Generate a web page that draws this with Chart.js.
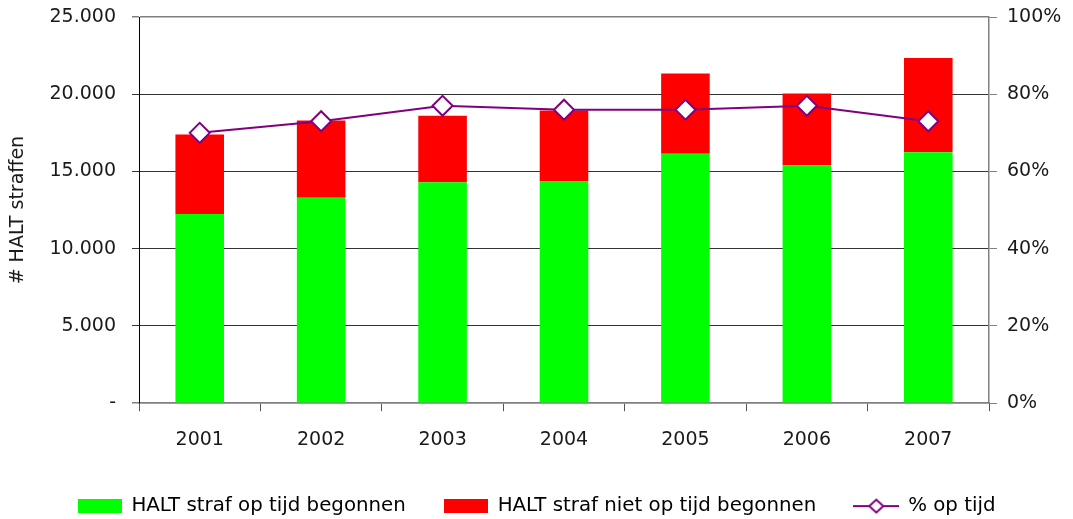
<!DOCTYPE html>
<html>
<head>
<meta charset="utf-8">
<script src="https://cdn.jsdelivr.net/npm/chart.js@4/dist/chart.umd.min.js"></script>
<style>
  html, body { margin: 0; padding: 0; background: #fff; }
  #chartContainer { width: 1073px; height: 519px; }
</style>
</head>
<body>
<div id="chartContainer"><canvas id="haltChart"></canvas></div>
<script>
var years = ['2001', '2002', '2003', '2004', '2005', '2006', '2007'];
var opTijd = [12250, 13300, 14300, 14350, 16150, 15400, 16250];
var nietOpTijd = [5150, 5000, 4300, 4600, 5200, 4650, 6100];
var procentOpTijd = [70, 73, 77, 76, 76, 77, 73];
var countTicks = [0, 5000, 10000, 15000, 20000, 25000];
var pctTicks = [0, 20, 40, 60, 80, 100];

var FONT = 'DejaVu Sans';
var GREEN = '#00ff00';
var RED = '#ff0000';
var PURPLE = '#800080';

// small canvases for the legend icons
function boxIcon(color) {
  var c = document.createElement('canvas');
  c.width = 44;
  c.height = 14;
  var g = c.getContext('2d');
  g.fillStyle = color;
  g.fillRect(0, 0, 44, 14);
  return c;
}

function lineIcon() {
  var c = document.createElement('canvas');
  c.width = 46;
  c.height = 16;
  var g = c.getContext('2d');
  g.strokeStyle = PURPLE;
  g.lineWidth = 2;
  g.beginPath();
  g.moveTo(0, 8);
  g.lineTo(46, 8);
  g.stroke();
  g.beginPath();
  g.moveTo(16, 8);
  g.lineTo(23, 1.5);
  g.lineTo(30, 8);
  g.lineTo(23, 14.5);
  g.closePath();
  g.fillStyle = '#fff';
  g.fill();
  g.stroke();
  return c;
}

var icons = [boxIcon(GREEN), boxIcon(RED), lineIcon()];

function dotThousands(v) {
  if (v === 0) return '-';
  return String(v).replace(/\B(?=(\d{3})+(?!\d))/g, '.');
}

var ctx = document.getElementById('haltChart').getContext('2d');
var haltChart = new Chart(ctx, {
  type: 'bar',
  data: {
    labels: years,
    datasets: [
      {
        label: 'HALT straf op tijd begonnen',
        data: opTijd,
        backgroundColor: GREEN,
        yAxisID: 'y',
        order: 1,
        barPercentage: 0.4,
        categoryPercentage: 1,
      },
      {
        label: 'HALT straf niet op tijd begonnen',
        data: nietOpTijd,
        backgroundColor: RED,
        yAxisID: 'y',
        order: 2,
        barPercentage: 0.4,
        categoryPercentage: 1,
      },
      {
        type: 'line',
        label: '% op tijd',
        data: procentOpTijd,
        yAxisID: 'y1',
        order: 0,
        borderColor: PURPLE,
        borderWidth: 2,
        pointStyle: 'rectRot',
        pointRadius: 10,
        pointBorderWidth: 2,
        pointBorderColor: PURPLE,
        pointBackgroundColor: '#fff',
        tension: 0,
      },
    ],
  },
  options: {
    responsive: true,
    maintainAspectRatio: false,
    animation: false,
    layout: {
      padding: { top: 17, left: 0, right: 0, bottom: -7 },
    },
    plugins: {
      tooltip: { enabled: false },
      legend: {
        position: 'bottom',
        labels: {
          usePointStyle: true,
          pointStyleWidth: 44,
          boxHeight: 14,
          padding: 38,
          color: '#1a1a1a',
          font: { family: FONT, size: 19.8 },
          generateLabels: function (chart) {
            return chart.data.datasets.map(function (ds, i) {
              return {
                text: ds.label,
                pointStyle: icons[i],
                fillStyle: 'transparent',
                strokeStyle: 'transparent',
                lineWidth: 0,
                datasetIndex: i,
                hidden: false,
              };
            });
          },
        },
      },
    },
    scales: {
      x: {
        stacked: true,
        offset: true,
        afterFit: function (scale) {
          scale.height = 55;
        },
        grid: {
          offset: true,
          drawOnChartArea: false,
          drawTicks: true,
          tickLength: 8,
          color: '#555',
        },
        border: { color: '#808080', width: 1.5 },
        ticks: {
          color: '#1a1a1a',
          padding: 17,
          font: { family: FONT, size: 19 },
        },
      },
      y: {
        stacked: true,
        position: 'left',
        min: 0,
        max: 25000,
        afterBuildTicks: function (scale) {
          scale.ticks = countTicks.map(function (v) { return { value: v }; });
        },
        afterFit: function (scale) {
          scale.width = 139;
          scale.paddingTop = 0;
          scale.paddingBottom = 0;
        },
        grid: {
          tickLength: 7,
          color: function (c) {
            if (c.tick && (c.tick.value === 0 || c.tick.value === 25000)) return '#808080';
            return '#333';
          },
          lineWidth: function (c) {
            if (c.tick && (c.tick.value === 0 || c.tick.value === 25000)) return 1.5;
            return 1;
          },
        },
        border: { color: '#000', width: 1 },
        ticks: {
          color: '#1a1a1a',
          padding: 16,
          font: { family: FONT, size: 19 },
          callback: function (v) { return dotThousands(v); },
        },
        title: {
          display: true,
          text: '# HALT straffen',
          color: '#1a1a1a',
          padding: { top: 7, bottom: 0 },
          font: { family: FONT, size: 19 },
        },
      },
      y1: {
        position: 'right',
        min: 0,
        max: 100,
        afterBuildTicks: function (scale) {
          scale.ticks = pctTicks.map(function (v) { return { value: v }; });
        },
        afterFit: function (scale) {
          scale.width = 84;
          scale.paddingTop = 0;
          scale.paddingBottom = 0;
        },
        grid: {
          drawOnChartArea: false,
          tickLength: 8,
          color: '#808080',
        },
        border: { color: '#808080', width: 1.5 },
        ticks: {
          color: '#1a1a1a',
          padding: 10,
          font: { family: FONT, size: 19 },
          callback: function (v) { return v + '%'; },
        },
      },
    },
  },
});
</script>
</body>
</html>
